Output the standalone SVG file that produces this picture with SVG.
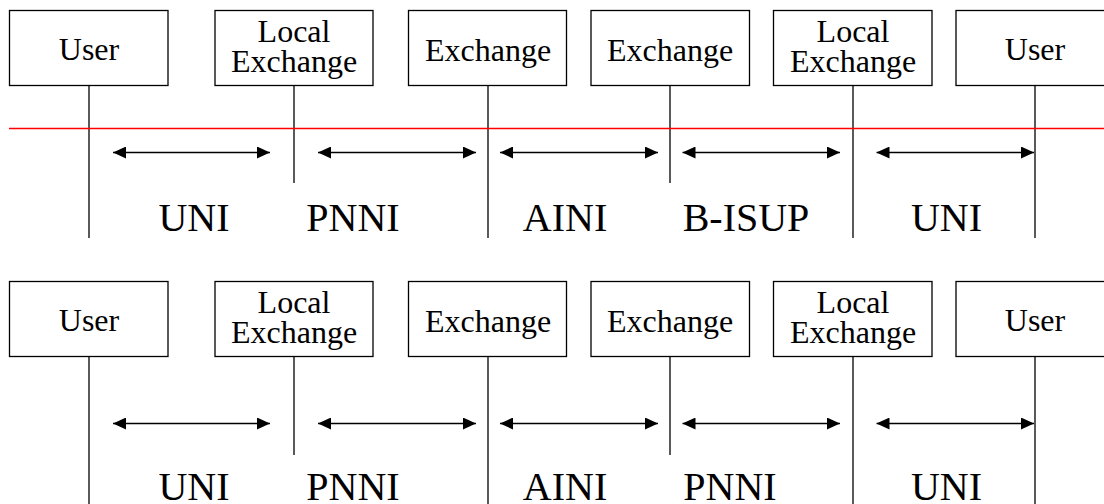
<svg xmlns="http://www.w3.org/2000/svg" width="1104" height="504" viewBox="0 0 1104 504">
<style>
.box{fill:#fff;stroke:#000;stroke-width:1.3}
.life{stroke:#000;stroke-width:1.3;fill:none}
.arr{stroke:#000;stroke-width:1.5;fill:none;marker-start:url(#ah);marker-end:url(#ah)}
.t{font-family:"Liberation Serif","Times New Roman",serif;font-size:32px;fill:#000;text-anchor:middle}
.lbl{font-family:"Liberation Serif","Times New Roman",serif;font-size:40px;fill:#000;text-anchor:middle}
</style>
<defs>
<marker id="ah" viewBox="0 0 13 12" refX="13" refY="6" markerWidth="13" markerHeight="12" markerUnits="userSpaceOnUse" orient="auto-start-reverse">
<path d="M0,0 L13,6 L0,12 Z" fill="#000"/>
</marker>
</defs>
<rect width="1104" height="504" fill="#fff"/>

<!-- Top diagram -->
<g id="top">
<g id="t-user1"><rect class="box" x="9.5" y="10.5" width="158.5" height="75"/><line class="life" x1="89" y1="85.5" x2="89" y2="238"/><text class="t" x="89" y="60">User</text></g>
<g id="t-local1"><rect class="box" x="215" y="10.5" width="158" height="75"/><line class="life" x1="294" y1="85.5" x2="294" y2="183"/><text class="t" x="294" y="42">Local</text><text class="t" x="294" y="71.5">Exchange</text></g>
<g id="t-exch1"><rect class="box" x="408.5" y="10.5" width="158" height="75"/><line class="life" x1="488" y1="85.5" x2="488" y2="238"/><text class="t" x="488" y="60.5">Exchange</text></g>
<g id="t-exch2"><rect class="box" x="591" y="10.5" width="158.5" height="75"/><line class="life" x1="670" y1="85.5" x2="670" y2="183"/><text class="t" x="670" y="60.5">Exchange</text></g>
<g id="t-local2"><rect class="box" x="773.5" y="10.5" width="158.5" height="75"/><line class="life" x1="853" y1="85.5" x2="853" y2="238"/><text class="t" x="853" y="42">Local</text><text class="t" x="853" y="71.5">Exchange</text></g>
<g id="t-user2"><rect class="box" x="956" y="10.5" width="160" height="75"/><line class="life" x1="1035" y1="85.5" x2="1035" y2="238"/><text class="t" x="1035" y="60">User</text></g>
<line id="redline" x1="9" y1="128.5" x2="1104" y2="128.5" stroke="#f00" stroke-width="1.5"/>
<g id="t-connectors">
<line class="arr" x1="113" y1="152.5" x2="270" y2="152.5"/>
<line class="arr" x1="318" y1="152.5" x2="476" y2="152.5"/>
<line class="arr" x1="500" y1="152.5" x2="658" y2="152.5"/>
<line class="arr" x1="682.5" y1="152.5" x2="840" y2="152.5"/>
<line class="arr" x1="876.5" y1="152.5" x2="1034" y2="152.5"/>
<text class="lbl" x="194" y="231">UNI</text>
<text class="lbl" x="353" y="231">PNNI</text>
<text class="lbl" x="565" y="231">AINI</text>
<text class="lbl" x="746" y="231">B-ISUP</text>
<text class="lbl" x="946.5" y="231">UNI</text>
</g>
</g>

<!-- Bottom diagram -->
<g id="bottom" transform="translate(0,271)">
<g id="b-user1"><rect class="box" x="9.5" y="10.5" width="158.5" height="75"/><line class="life" x1="89" y1="85.5" x2="89" y2="240"/><text class="t" x="89" y="60">User</text></g>
<g id="b-local1"><rect class="box" x="215" y="10.5" width="158" height="75"/><line class="life" x1="294" y1="85.5" x2="294" y2="184"/><text class="t" x="294" y="42">Local</text><text class="t" x="294" y="71.5">Exchange</text></g>
<g id="b-exch1"><rect class="box" x="408.5" y="10.5" width="158" height="75"/><line class="life" x1="488" y1="85.5" x2="488" y2="240"/><text class="t" x="488" y="60.5">Exchange</text></g>
<g id="b-exch2"><rect class="box" x="591" y="10.5" width="158.5" height="75"/><line class="life" x1="670" y1="85.5" x2="670" y2="184"/><text class="t" x="670" y="60.5">Exchange</text></g>
<g id="b-local2"><rect class="box" x="773.5" y="10.5" width="158.5" height="75"/><line class="life" x1="853" y1="85.5" x2="853" y2="240"/><text class="t" x="853" y="42">Local</text><text class="t" x="853" y="71.5">Exchange</text></g>
<g id="b-user2"><rect class="box" x="956" y="10.5" width="160" height="75"/><line class="life" x1="1035" y1="85.5" x2="1035" y2="240"/><text class="t" x="1035" y="60">User</text></g>
<g id="b-connectors">
<line class="arr" x1="113" y1="152.5" x2="270" y2="152.5"/>
<line class="arr" x1="318" y1="152.5" x2="476" y2="152.5"/>
<line class="arr" x1="500" y1="152.5" x2="658" y2="152.5"/>
<line class="arr" x1="682.5" y1="152.5" x2="840" y2="152.5"/>
<line class="arr" x1="876.5" y1="152.5" x2="1034" y2="152.5"/>
<text class="lbl" x="194" y="229">UNI</text>
<text class="lbl" x="353" y="229">PNNI</text>
<text class="lbl" x="565" y="229">AINI</text>
<text class="lbl" x="730" y="229">PNNI</text>
<text class="lbl" x="946.5" y="229">UNI</text>
</g>
</g>
</svg>
